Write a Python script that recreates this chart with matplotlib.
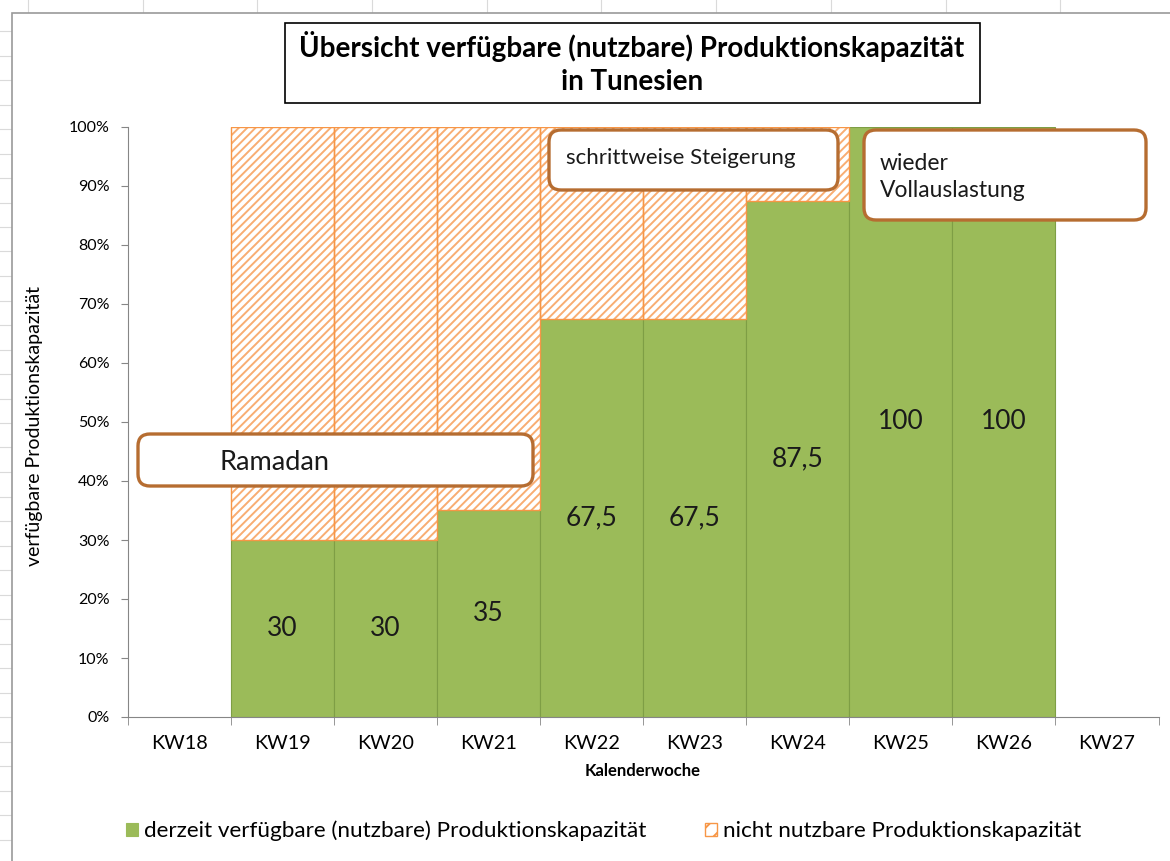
import matplotlib
matplotlib.use("Agg")
import matplotlib.pyplot as plt
from matplotlib.patches import FancyBboxPatch, Rectangle, Patch
from matplotlib.lines import Line2D
import numpy as np

plt.rcParams['font.family'] = ['Lato', 'DejaVu Sans']
plt.rcParams['hatch.linewidth'] = 1.4

# data
weeks = ['KW18', 'KW19', 'KW20', 'KW21', 'KW22', 'KW23', 'KW24', 'KW25', 'KW26', 'KW27']
usable = [0, 30, 30, 35, 67.5, 67.5, 87.5, 100, 100, 0]
not_usable = [0, 70, 70, 65, 32.5, 32.5, 12.5, 0, 0, 0]
usable_labels = ['', '30', '30', '35', '67,5', '67,5', '87,5', '100', '100', '']
legend_labels = ['derzeit verfügbare (nutzbare) Produktionskapazität',
                 'nicht nutzbare Produktionskapazität']

GREEN = '#9BBB59'
ORANGE = '#F79646'
HATCH = '#F8AD72'
BROWN = '#B66D31'
W, H = 1170, 861

fig = plt.figure(figsize=(W / 100, H / 100), dpi=100)

# spreadsheet grid behind the chart
for x in np.arange(28, W, 114.7):
    fig.add_artist(Line2D([x / W, x / W], [0, 1], color='#DADADA', lw=0.8, zorder=0.2))
for y in np.arange(31, H, 24.5):
    fig.add_artist(Line2D([0, 1], [1 - y / H, 1 - y / H], color='#DADADA', lw=0.8, zorder=0.2))
# chart area
fig.add_artist(Rectangle((12 / W, -0.01), 1.0, 1 - 13 / H + 0.01, transform=fig.transFigure,
                         facecolor='white', edgecolor='#9A9A9A', lw=1.2, zorder=0.5))


def px(x, y):
    # top-left pixel coords -> figure fraction
    return x / W, 1 - y / H


ax = fig.add_axes([127.5 / W, (H - 717) / H, 1031 / W, 590 / H])
ax.set_zorder(2)
ax.patch.set_alpha(0)

xs = np.arange(len(weeks))
b1 = ax.bar(xs, usable, width=1.0, color=GREEN, edgecolor='#7E9E45', lw=0.8)
# hatch in a lighter orange, outline drawn separately in full orange
b2 = ax.bar(xs, not_usable, width=1.0, bottom=usable, facecolor='white', edgecolor=HATCH,
            hatch='////', lw=0)
b3 = ax.bar(xs, not_usable, width=1.0, bottom=usable, fill=False, edgecolor=ORANGE, lw=1.0)
# no edge line for empty segments
for bars, vals in [(b1, usable), (b3, not_usable)]:
    for patch, v in zip(bars, vals):
        if v == 0:
            patch.set_linewidth(0)

for x, v, lab in zip(xs, usable, usable_labels):
    if lab:
        ax.text(x, v / 2, lab, ha='center', va='center', fontsize=19, color='#1A1A1A')

ax.set_xlim(-0.5, len(weeks) - 0.5)
ax.set_ylim(0, 100)
ax.set_yticks(np.arange(0, 101, 10))
ax.set_yticklabels([f'{v}%' for v in range(0, 101, 10)], fontsize=11.5)
ax.set_xticks(xs)
ax.set_xticklabels(weeks, fontsize=14.3)
ax.set_xticks(np.arange(-0.5, len(weeks), 1), minor=True)
ax.tick_params(axis='x', which='major', length=0, pad=13)
ax.tick_params(axis='x', which='minor', length=6, color='#868686', direction='out')
ax.tick_params(axis='y', length=5, color='#868686', pad=8)
for s in ['top', 'right']:
    ax.spines[s].set_visible(False)
for s in ['left', 'bottom']:
    ax.spines[s].set_color('#868686')

ax.set_xlabel('Kalenderwoche', fontsize=12, fontweight='bold', labelpad=8)
fig.text(35 / W, 1 - 426 / H, 'verfügbare Produktionskapazität', rotation=90,
         ha='center', va='center', fontsize=14)

# title box
x0, y0 = px(285, 103)
fig.add_artist(Rectangle((x0, y0), (980 - 285) / W, 80 / H, transform=fig.transFigure,
                         facecolor='white', edgecolor='black', lw=1.2, zorder=5))
fig.text(632 / W, 1 - 63 / H, 'Übersicht verfügbare (nutzbare) Produktionskapazität\nin Tunesien',
         ha='center', va='center', fontsize=20, fontweight='bold', linespacing=1.3, zorder=6)


def note(x1, y1, x2, y2, text, tx, ty, fs):
    patch = FancyBboxPatch((x1, H - y2), x2 - x1, y2 - y1, transform=None,
                           boxstyle='round,pad=0,rounding_size=12',
                           facecolor='white', edgecolor=BROWN, lw=2.4, zorder=7)
    fig.add_artist(patch)
    fig.text(tx / W, 1 - ty / H, text, ha='left', va='center', fontsize=fs,
             color='#1A1A1A', linespacing=1.35, zorder=8)


note(138, 434, 533, 486, 'Ramadan', 219, 462, 19.5)
note(549, 130, 838, 190, 'schrittweise Steigerung', 566, 158, 16)
note(864, 130, 1146, 220, 'wieder\nVollauslastung', 880, 177, 16.5)

handles = [Patch(facecolor=GREEN, edgecolor=GREEN, lw=0.8),
           Patch(facecolor='white', edgecolor=ORANGE, hatch='//', lw=1.0)]
fig.legend(handles=handles, labels=legend_labels, loc='center left',
           bbox_to_anchor=(117 / W, 1 - 831 / H),
           ncol=2, frameon=False, fontsize=16.2, handlelength=0.55, handleheight=0.55,
           handletextpad=0.25, columnspacing=2.6, borderaxespad=0)

fig.savefig('out.png', dpi=100)
